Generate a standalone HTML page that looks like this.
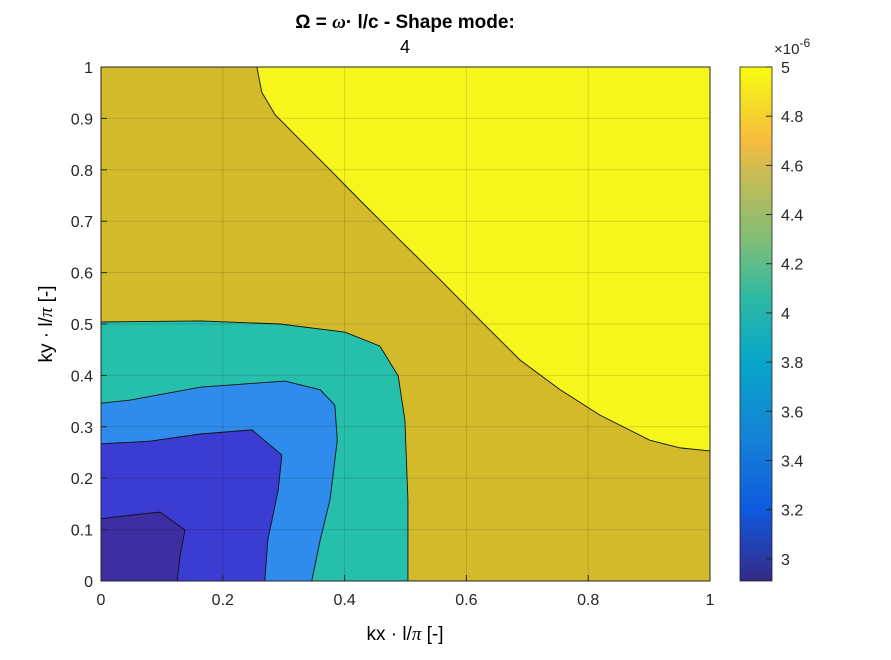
<!DOCTYPE html>
<html><head><meta charset="utf-8"><style>
body{margin:0;background:#fff;}
svg text{font-family:"Liberation Sans",sans-serif;}
</style></head><body>
<svg id="chart" width="891" height="655" xmlns="http://www.w3.org/2000/svg">
<defs>
<linearGradient id="parula" x1="0" y1="1" x2="0" y2="0">
<stop offset="0" stop-color="#352a87"/><stop offset="0.14" stop-color="#0f5ae0"/><stop offset="0.28" stop-color="#1483d6"/><stop offset="0.43" stop-color="#08a6c8"/><stop offset="0.55" stop-color="#2eb9a3"/><stop offset="0.67" stop-color="#84be74"/><stop offset="0.79" stop-color="#c8bb55"/><stop offset="0.86" stop-color="#f8bc3c"/><stop offset="0.93" stop-color="#f4dd28"/><stop offset="1" stop-color="#f9fb0e"/>
</linearGradient>
</defs>
<rect width="891" height="655" fill="#fff"/>
<g id="plot"></g>
<g id="axes"></g>
<text x="405" y="28" text-anchor="middle" font-size="19" font-weight="bold">Ω = <tspan font-style="italic" font-family="Liberation Serif,serif">ω</tspan>· l/c - Shape mode:</text>
<text x="405" y="53" text-anchor="middle" font-size="18">4</text>
<text x="405" y="640" text-anchor="middle" font-size="19">kx · l/<tspan font-family="Liberation Serif,serif" font-style="italic">π</tspan> [-]</text>
<text transform="translate(52,324) rotate(-90)" text-anchor="middle" font-size="19">ky · l/<tspan font-family="Liberation Serif,serif" font-style="italic">π</tspan> [-]</text>
<rect x="740" y="67" width="32" height="514" fill="url(#parula)" stroke="#262626" stroke-width="0.8"/>
<g id="cbar"></g>
<text x="774" y="54" font-size="15" fill="#262626">×10<tspan dy="-7" font-size="12">-6</tspan></text>
</svg>
<script>
const xTicks=[0,0.2,0.4,0.6,0.8,1];
const yTicks=[0,0.1,0.2,0.3,0.4,0.5,0.6,0.7,0.8,0.9,1];
const cTicks=[3,3.2,3.4,3.6,3.8,4,4.2,4.4,4.6,4.8,5];
const cMin=2.91, cMax=5;
const bgColor="#d3ba2b";
const regionColors=["#f6f51c","#26bfab","#2f8cec","#3b3dd2","#3d2ea2"];
const regionCorners=[[1,1],[0,0],[0,0],[0,0],[0,0]];
const yellowEdge=[[0.256,1],[0.264,0.951],[0.286,0.907],[0.327,0.858],[0.376,0.8],[0.425,0.741],[0.491,0.663],[0.557,0.586],[0.622,0.508],[0.688,0.43],[0.754,0.372],[0.819,0.323],[0.901,0.274],[0.951,0.259],[1,0.253]];
const tealEdge=[[0,0.504],[0.163,0.506],[0.294,0.5],[0.401,0.484],[0.458,0.457],[0.488,0.399],[0.499,0.313],[0.504,0.158],[0.504,0]];
const lightBlueEdge=[[0,0.346],[0.048,0.352],[0.163,0.377],[0.302,0.389],[0.36,0.372],[0.384,0.342],[0.388,0.274],[0.376,0.158],[0.36,0.08],[0.346,0]];
const darkBlueEdge=[[0,0.267],[0.08,0.272],[0.163,0.286],[0.248,0.294],[0.297,0.245],[0.291,0.177],[0.274,0.08],[0.269,0]];
const darkestEdge=[[0,0.121],[0.048,0.128],[0.097,0.134],[0.138,0.099],[0.13,0.051],[0.125,0]];
const edges=[yellowEdge,tealEdge,lightBlueEdge,darkBlueEdge,darkestEdge];
const names=["region-yellow","region-teal","region-light-blue","region-dark-blue","region-darkest"];
const X0=101,X1=710,Y0=581,Y1=67;
const sx=v=>X0+v*(X1-X0), sy=v=>Y0-v*(Y0-Y1), sc=v=>581-(v-cMin)/(cMax-cMin)*514;
const NS="http://www.w3.org/2000/svg";
function mk(t,a,p){const e=document.createElementNS(NS,t);for(const k in a)e.setAttribute(k,a[k]);p.appendChild(e);return e;}
const plot=document.getElementById('plot'),axes=document.getElementById('axes'),cb=document.getElementById('cbar');
let bg=mk('rect',{x:X0,y:Y1,width:X1-X0,height:Y0-Y1,fill:bgColor},plot);


edges.forEach((ed,i)=>{
 const pts=ed.map(p=>sx(p[0])+','+sy(p[1])).concat([sx(regionCorners[i][0])+','+sy(regionCorners[i][1])]).join(' ');
 const pg=mk('polygon',{points:pts,fill:regionColors[i]},plot);
 
 
 const pl=mk('polyline',{points:ed.map(p=>sx(p[0])+','+sy(p[1])).join(' '),fill:'none',stroke:'#111',"stroke-width":0.9},plot);
 
 
});
xTicks.forEach(v=>{
 const g=mk('line',{x1:sx(v),x2:sx(v),y1:Y0,y2:Y1,stroke:'#000','stroke-opacity':0.13},axes);
 
 
 mk('line',{x1:sx(v),x2:sx(v),y1:Y0,y2:Y0-6,stroke:'#262626'},axes);
 const t=mk('text',{x:sx(v),y:Y0+24,'text-anchor':'middle','font-size':16,fill:'#262626'},axes);t.textContent=v;
 
 
});
yTicks.forEach(v=>{
 const g=mk('line',{x1:X0,x2:X1,y1:sy(v),y2:sy(v),stroke:'#000','stroke-opacity':0.13},axes);
 
 
 mk('line',{x1:X0,x2:X0+6,y1:sy(v),y2:sy(v),stroke:'#262626'},axes);
 const t=mk('text',{x:X0-8,y:sy(v)+6,'text-anchor':'end','font-size':16,fill:'#262626'},axes);t.textContent=v;
 
 
});
const fr=mk('rect',{x:X0,y:Y1,width:X1-X0,height:Y0-Y1,fill:'none',stroke:'#262626','stroke-width':1},axes);


cTicks.forEach(v=>{
 mk('line',{x1:766,x2:772,y1:sc(v),y2:sc(v),stroke:'#262626'},cb);
 const t=mk('text',{x:781,y:sc(v)+6,'font-size':16,fill:'#262626'},cb);t.textContent=v;
 
 
});
</script>
</body></html>
